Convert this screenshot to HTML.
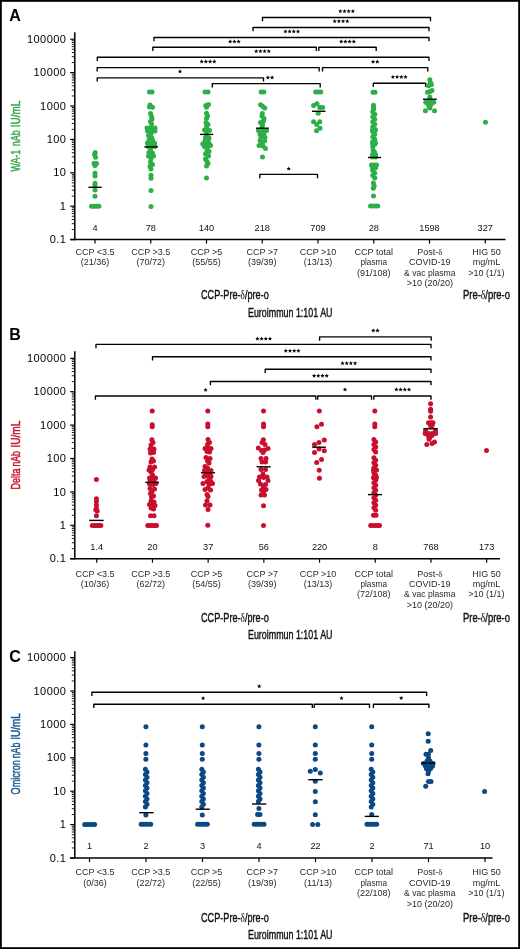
<!DOCTYPE html><html><head><meta charset="utf-8"><style>html,body{margin:0;padding:0;background:#fff;}svg{display:block;will-change:transform}</style></head><body>
<svg width="520" height="949" viewBox="0 0 520 949">
<rect x="0" y="0" width="520" height="949" fill="#fff"/>
<rect x="0.9" y="0.9" width="518.2" height="947.2" fill="none" stroke="#000" stroke-width="1.8"/>
<text x="9.3" y="20.6" font-family="Liberation Sans, sans-serif" font-weight="bold" font-size="16" fill="#000">A</text>
<g stroke="#000" fill="none"><line x1="74.80" y1="32.20" x2="74.80" y2="240.20" stroke-width="1.5"/><line x1="70.20" y1="239.60" x2="74.80" y2="239.60" stroke-width="1.2"/><line x1="71.80" y1="229.55" x2="74.80" y2="229.55" stroke-width="0.9"/><line x1="71.80" y1="223.66" x2="74.80" y2="223.66" stroke-width="0.9"/><line x1="71.80" y1="219.49" x2="74.80" y2="219.49" stroke-width="0.9"/><line x1="71.80" y1="216.25" x2="74.80" y2="216.25" stroke-width="0.9"/><line x1="71.80" y1="213.61" x2="74.80" y2="213.61" stroke-width="0.9"/><line x1="71.80" y1="211.37" x2="74.80" y2="211.37" stroke-width="0.9"/><line x1="71.80" y1="209.44" x2="74.80" y2="209.44" stroke-width="0.9"/><line x1="71.80" y1="207.73" x2="74.80" y2="207.73" stroke-width="0.9"/><line x1="70.20" y1="206.20" x2="74.80" y2="206.20" stroke-width="1.2"/><line x1="71.80" y1="196.15" x2="74.80" y2="196.15" stroke-width="0.9"/><line x1="71.80" y1="190.26" x2="74.80" y2="190.26" stroke-width="0.9"/><line x1="71.80" y1="186.09" x2="74.80" y2="186.09" stroke-width="0.9"/><line x1="71.80" y1="182.85" x2="74.80" y2="182.85" stroke-width="0.9"/><line x1="71.80" y1="180.21" x2="74.80" y2="180.21" stroke-width="0.9"/><line x1="71.80" y1="177.97" x2="74.80" y2="177.97" stroke-width="0.9"/><line x1="71.80" y1="176.04" x2="74.80" y2="176.04" stroke-width="0.9"/><line x1="71.80" y1="174.33" x2="74.80" y2="174.33" stroke-width="0.9"/><line x1="70.20" y1="172.80" x2="74.80" y2="172.80" stroke-width="1.2"/><line x1="71.80" y1="162.75" x2="74.80" y2="162.75" stroke-width="0.9"/><line x1="71.80" y1="156.86" x2="74.80" y2="156.86" stroke-width="0.9"/><line x1="71.80" y1="152.69" x2="74.80" y2="152.69" stroke-width="0.9"/><line x1="71.80" y1="149.45" x2="74.80" y2="149.45" stroke-width="0.9"/><line x1="71.80" y1="146.81" x2="74.80" y2="146.81" stroke-width="0.9"/><line x1="71.80" y1="144.57" x2="74.80" y2="144.57" stroke-width="0.9"/><line x1="71.80" y1="142.64" x2="74.80" y2="142.64" stroke-width="0.9"/><line x1="71.80" y1="140.93" x2="74.80" y2="140.93" stroke-width="0.9"/><line x1="70.20" y1="139.40" x2="74.80" y2="139.40" stroke-width="1.2"/><line x1="71.80" y1="129.35" x2="74.80" y2="129.35" stroke-width="0.9"/><line x1="71.80" y1="123.46" x2="74.80" y2="123.46" stroke-width="0.9"/><line x1="71.80" y1="119.29" x2="74.80" y2="119.29" stroke-width="0.9"/><line x1="71.80" y1="116.05" x2="74.80" y2="116.05" stroke-width="0.9"/><line x1="71.80" y1="113.41" x2="74.80" y2="113.41" stroke-width="0.9"/><line x1="71.80" y1="111.17" x2="74.80" y2="111.17" stroke-width="0.9"/><line x1="71.80" y1="109.24" x2="74.80" y2="109.24" stroke-width="0.9"/><line x1="71.80" y1="107.53" x2="74.80" y2="107.53" stroke-width="0.9"/><line x1="70.20" y1="106.00" x2="74.80" y2="106.00" stroke-width="1.2"/><line x1="71.80" y1="95.95" x2="74.80" y2="95.95" stroke-width="0.9"/><line x1="71.80" y1="90.06" x2="74.80" y2="90.06" stroke-width="0.9"/><line x1="71.80" y1="85.89" x2="74.80" y2="85.89" stroke-width="0.9"/><line x1="71.80" y1="82.65" x2="74.80" y2="82.65" stroke-width="0.9"/><line x1="71.80" y1="80.01" x2="74.80" y2="80.01" stroke-width="0.9"/><line x1="71.80" y1="77.77" x2="74.80" y2="77.77" stroke-width="0.9"/><line x1="71.80" y1="75.84" x2="74.80" y2="75.84" stroke-width="0.9"/><line x1="71.80" y1="74.13" x2="74.80" y2="74.13" stroke-width="0.9"/><line x1="70.20" y1="72.60" x2="74.80" y2="72.60" stroke-width="1.2"/><line x1="71.80" y1="62.55" x2="74.80" y2="62.55" stroke-width="0.9"/><line x1="71.80" y1="56.66" x2="74.80" y2="56.66" stroke-width="0.9"/><line x1="71.80" y1="52.49" x2="74.80" y2="52.49" stroke-width="0.9"/><line x1="71.80" y1="49.25" x2="74.80" y2="49.25" stroke-width="0.9"/><line x1="71.80" y1="46.61" x2="74.80" y2="46.61" stroke-width="0.9"/><line x1="71.80" y1="44.37" x2="74.80" y2="44.37" stroke-width="0.9"/><line x1="71.80" y1="42.44" x2="74.80" y2="42.44" stroke-width="0.9"/><line x1="71.80" y1="40.73" x2="74.80" y2="40.73" stroke-width="0.9"/><line x1="70.20" y1="39.20" x2="74.80" y2="39.20" stroke-width="1.2"/><line x1="70.20" y1="239.60" x2="505.50" y2="239.60" stroke-width="1.5"/><line x1="95.00" y1="239.60" x2="95.00" y2="243.60" stroke-width="1.2"/><line x1="150.75" y1="239.60" x2="150.75" y2="243.60" stroke-width="1.2"/><line x1="206.50" y1="239.60" x2="206.50" y2="243.60" stroke-width="1.2"/><line x1="262.25" y1="239.60" x2="262.25" y2="243.60" stroke-width="1.2"/><line x1="318.00" y1="239.60" x2="318.00" y2="243.60" stroke-width="1.2"/><line x1="373.75" y1="239.60" x2="373.75" y2="243.60" stroke-width="1.2"/><line x1="429.50" y1="239.60" x2="429.50" y2="243.60" stroke-width="1.2"/><line x1="485.25" y1="239.60" x2="485.25" y2="243.60" stroke-width="1.2"/></g>
<g font-family="Liberation Sans, sans-serif" font-size="11" fill="#000" text-anchor="end" letter-spacing="0.4"><text x="66.2" y="243.20">0.1</text><text x="66.2" y="209.80">1</text><text x="66.2" y="176.40">10</text><text x="66.2" y="143.00">100</text><text x="66.2" y="109.60">1000</text><text x="66.2" y="76.20">10000</text><text x="66.2" y="42.80">100000</text></g>
<text transform="translate(20.3,171.50) rotate(-90)" font-family="Liberation Sans, sans-serif" font-size="13" fill="#35A94A" stroke="#35A94A" stroke-width="0.5" textLength="21.60" lengthAdjust="spacingAndGlyphs">WA-1</text>
<text transform="translate(20.3,145.90) rotate(-90)" font-family="Liberation Sans, sans-serif" font-size="13" fill="#35A94A" stroke="#35A94A" stroke-width="0.5" textLength="15.50" lengthAdjust="spacingAndGlyphs">nAb</text>
<text transform="translate(20.3,127.30) rotate(-90)" font-family="Liberation Sans, sans-serif" font-size="13" fill="#35A94A" stroke="#35A94A" stroke-width="0.5" textLength="26.50" lengthAdjust="spacingAndGlyphs">IU/mL</text>
<g font-family="Liberation Sans, sans-serif" font-size="9.2" fill="#111" text-anchor="middle"><text x="95.00" y="230.80">4</text><text x="150.75" y="230.80">78</text><text x="206.50" y="230.80">140</text><text x="262.25" y="230.80">218</text><text x="318.00" y="230.80">709</text><text x="373.75" y="230.80">28</text><text x="429.50" y="230.80">1598</text><text x="485.25" y="230.80">327</text></g>
<g font-family="Liberation Sans, sans-serif" font-size="9" fill="#2a2a2a" text-anchor="middle"><text x="95.00" y="254.90">CCP &lt;3.5</text><text x="95.00" y="265.30">(21/36)</text><text x="150.75" y="254.90">CCP &gt;3.5</text><text x="150.75" y="265.30">(70/72)</text><text x="206.50" y="254.90">CCP &gt;5</text><text x="206.50" y="265.30">(55/55)</text><text x="262.25" y="254.90">CCP &gt;7</text><text x="262.25" y="265.30">(39/39)</text><text x="318.00" y="254.90">CCP &gt;10</text><text x="318.00" y="265.30">(13/13)</text><text x="373.75" y="254.90">CCP total</text><text x="373.75" y="265.30" textLength="26.6" lengthAdjust="spacingAndGlyphs">plasma</text><text x="373.75" y="275.70">(91/108)</text><text x="429.80" y="254.90">Post-<tspan font-family="Liberation Serif">δ</tspan></text><text x="429.80" y="265.30">COVID-19</text><text x="429.80" y="275.70" textLength="51.5" lengthAdjust="spacingAndGlyphs">&amp; vac plasma</text><text x="429.80" y="286.10">&gt;10 (20/20)</text><text x="486.40" y="254.90">HIG 50</text><text x="486.40" y="265.30">mg/mL</text><text x="486.40" y="275.70">&gt;10 (1/1)</text></g>
<text x="201" y="299.1" font-family="Liberation Sans, sans-serif" font-size="12.2" fill="#111" stroke="#111" stroke-width="0.4" textLength="67.8" lengthAdjust="spacingAndGlyphs">CCP-Pre-<tspan font-family="Liberation Serif" stroke-width="0.1">δ</tspan>/pre-o</text>
<text x="463" y="299.1" font-family="Liberation Sans, sans-serif" font-size="12.2" fill="#111" stroke="#111" stroke-width="0.4" textLength="47" lengthAdjust="spacingAndGlyphs">Pre-<tspan font-family="Liberation Serif" stroke-width="0.1">δ</tspan>/pre-o</text>
<text x="248" y="317.0" font-family="Liberation Sans, sans-serif" font-size="12.2" fill="#111" stroke="#111" stroke-width="0.4" textLength="84.5" lengthAdjust="spacingAndGlyphs">Euroimmun 1:101 AU</text>
<g stroke="#000" stroke-width="1.35" fill="none" stroke-linejoin="round"><path d="M262.50 21.30 V17.50 H430.50 V21.30"/><path d="M253.00 31.30 V27.50 H429.00 V31.30"/><path d="M154.00 41.30 V37.50 H429.00 V41.30"/><path d="M152.80 51.00 V47.20 H316.30 V51.00"/><path d="M318.80 51.00 V47.20 H376.20 V51.00"/><path d="M97.30 61.00 V57.20 H429.00 V61.00"/><path d="M97.20 71.40 V67.60 H319.20 V71.40"/><path d="M322.50 71.40 V67.60 H427.80 V71.40"/><path d="M97.20 81.60 V77.80 H263.50 V81.60"/><path d="M212.30 87.40 V83.60 H320.20 V87.40"/><path d="M373.30 87.00 V83.20 H425.80 V87.00"/><path d="M259.80 178.20 V174.40 H317.50 V178.20"/></g>
<g fill="#000"><polygon points="340.30,8.90 340.89,10.39 342.49,10.49 341.25,11.51 341.65,13.06 340.30,12.20 338.95,13.06 339.35,11.51 338.11,10.49 339.71,10.39"/><polygon points="344.50,8.90 345.09,10.39 346.69,10.49 345.45,11.51 345.85,13.06 344.50,12.20 343.15,13.06 343.55,11.51 342.31,10.49 343.91,10.39"/><polygon points="348.70,8.90 349.29,10.39 350.89,10.49 349.65,11.51 350.05,13.06 348.70,12.20 347.35,13.06 347.75,11.51 346.51,10.49 348.11,10.39"/><polygon points="352.90,8.90 353.49,10.39 355.09,10.49 353.85,11.51 354.25,13.06 352.90,12.20 351.55,13.06 351.95,11.51 350.71,10.49 352.31,10.39"/><polygon points="334.70,18.90 335.29,20.39 336.89,20.49 335.65,21.51 336.05,23.06 334.70,22.20 333.35,23.06 333.75,21.51 332.51,20.49 334.11,20.39"/><polygon points="338.90,18.90 339.49,20.39 341.09,20.49 339.85,21.51 340.25,23.06 338.90,22.20 337.55,23.06 337.95,21.51 336.71,20.49 338.31,20.39"/><polygon points="343.10,18.90 343.69,20.39 345.29,20.49 344.05,21.51 344.45,23.06 343.10,22.20 341.75,23.06 342.15,21.51 340.91,20.49 342.51,20.39"/><polygon points="347.30,18.90 347.89,20.39 349.49,20.49 348.25,21.51 348.65,23.06 347.30,22.20 345.95,23.06 346.35,21.51 345.11,20.49 346.71,20.39"/><polygon points="285.40,29.20 285.99,30.69 287.59,30.79 286.35,31.81 286.75,33.36 285.40,32.50 284.05,33.36 284.45,31.81 283.21,30.79 284.81,30.69"/><polygon points="289.60,29.20 290.19,30.69 291.79,30.79 290.55,31.81 290.95,33.36 289.60,32.50 288.25,33.36 288.65,31.81 287.41,30.79 289.01,30.69"/><polygon points="293.80,29.20 294.39,30.69 295.99,30.79 294.75,31.81 295.15,33.36 293.80,32.50 292.45,33.36 292.85,31.81 291.61,30.79 293.21,30.69"/><polygon points="298.00,29.20 298.59,30.69 300.19,30.79 298.95,31.81 299.35,33.36 298.00,32.50 296.65,33.36 297.05,31.81 295.81,30.79 297.41,30.69"/><polygon points="230.20,39.30 230.79,40.79 232.39,40.89 231.15,41.91 231.55,43.46 230.20,42.60 228.85,43.46 229.25,41.91 228.01,40.89 229.61,40.79"/><polygon points="234.40,39.30 234.99,40.79 236.59,40.89 235.35,41.91 235.75,43.46 234.40,42.60 233.05,43.46 233.45,41.91 232.21,40.89 233.81,40.79"/><polygon points="238.60,39.30 239.19,40.79 240.79,40.89 239.55,41.91 239.95,43.46 238.60,42.60 237.25,43.46 237.65,41.91 236.41,40.89 238.01,40.79"/><polygon points="341.20,39.30 341.79,40.79 343.39,40.89 342.15,41.91 342.55,43.46 341.20,42.60 339.85,43.46 340.25,41.91 339.01,40.89 340.61,40.79"/><polygon points="345.40,39.30 345.99,40.79 347.59,40.89 346.35,41.91 346.75,43.46 345.40,42.60 344.05,43.46 344.45,41.91 343.21,40.89 344.81,40.79"/><polygon points="349.60,39.30 350.19,40.79 351.79,40.89 350.55,41.91 350.95,43.46 349.60,42.60 348.25,43.46 348.65,41.91 347.41,40.89 349.01,40.79"/><polygon points="353.80,39.30 354.39,40.79 355.99,40.89 354.75,41.91 355.15,43.46 353.80,42.60 352.45,43.46 352.85,41.91 351.61,40.89 353.21,40.79"/><polygon points="256.20,48.90 256.79,50.39 258.39,50.49 257.15,51.51 257.55,53.06 256.20,52.20 254.85,53.06 255.25,51.51 254.01,50.49 255.61,50.39"/><polygon points="260.40,48.90 260.99,50.39 262.59,50.49 261.35,51.51 261.75,53.06 260.40,52.20 259.05,53.06 259.45,51.51 258.21,50.49 259.81,50.39"/><polygon points="264.60,48.90 265.19,50.39 266.79,50.49 265.55,51.51 265.95,53.06 264.60,52.20 263.25,53.06 263.65,51.51 262.41,50.49 264.01,50.39"/><polygon points="268.80,48.90 269.39,50.39 270.99,50.49 269.75,51.51 270.15,53.06 268.80,52.20 267.45,53.06 267.85,51.51 266.61,50.49 268.21,50.39"/><polygon points="201.70,59.30 202.29,60.79 203.89,60.89 202.65,61.91 203.05,63.46 201.70,62.60 200.35,63.46 200.75,61.91 199.51,60.89 201.11,60.79"/><polygon points="205.90,59.30 206.49,60.79 208.09,60.89 206.85,61.91 207.25,63.46 205.90,62.60 204.55,63.46 204.95,61.91 203.71,60.89 205.31,60.79"/><polygon points="210.10,59.30 210.69,60.79 212.29,60.89 211.05,61.91 211.45,63.46 210.10,62.60 208.75,63.46 209.15,61.91 207.91,60.89 209.51,60.79"/><polygon points="214.30,59.30 214.89,60.79 216.49,60.89 215.25,61.91 215.65,63.46 214.30,62.60 212.95,63.46 213.35,61.91 212.11,60.89 213.71,60.79"/><polygon points="373.10,59.50 373.69,60.99 375.29,61.09 374.05,62.11 374.45,63.66 373.10,62.80 371.75,63.66 372.15,62.11 370.91,61.09 372.51,60.99"/><polygon points="377.30,59.50 377.89,60.99 379.49,61.09 378.25,62.11 378.65,63.66 377.30,62.80 375.95,63.66 376.35,62.11 375.11,61.09 376.71,60.99"/><polygon points="180.00,69.20 180.59,70.69 182.19,70.79 180.95,71.81 181.35,73.36 180.00,72.50 178.65,73.36 179.05,71.81 177.81,70.79 179.41,70.69"/><polygon points="267.90,75.30 268.49,76.79 270.09,76.89 268.85,77.91 269.25,79.46 267.90,78.60 266.55,79.46 266.95,77.91 265.71,76.89 267.31,76.79"/><polygon points="272.10,75.30 272.69,76.79 274.29,76.89 273.05,77.91 273.45,79.46 272.10,78.60 270.75,79.46 271.15,77.91 269.91,76.89 271.51,76.79"/><polygon points="392.90,74.70 393.49,76.19 395.09,76.29 393.85,77.31 394.25,78.86 392.90,78.00 391.55,78.86 391.95,77.31 390.71,76.29 392.31,76.19"/><polygon points="397.10,74.70 397.69,76.19 399.29,76.29 398.05,77.31 398.45,78.86 397.10,78.00 395.75,78.86 396.15,77.31 394.91,76.29 396.51,76.19"/><polygon points="401.30,74.70 401.89,76.19 403.49,76.29 402.25,77.31 402.65,78.86 401.30,78.00 399.95,78.86 400.35,77.31 399.11,76.29 400.71,76.19"/><polygon points="405.50,74.70 406.09,76.19 407.69,76.29 406.45,77.31 406.85,78.86 405.50,78.00 404.15,78.86 404.55,77.31 403.31,76.29 404.91,76.19"/><polygon points="288.70,166.40 289.29,167.89 290.89,167.99 289.65,169.01 290.05,170.56 288.70,169.70 287.35,170.56 287.75,169.01 286.51,167.99 288.11,167.89"/></g>
<g fill="#2DAE47"><circle cx="95.20" cy="152.50" r="2.5"/><circle cx="94.50" cy="154.40" r="2.5"/><circle cx="95.50" cy="157.30" r="2.5"/><circle cx="94.00" cy="163.60" r="2.5"/><circle cx="96.50" cy="163.60" r="2.5"/><circle cx="95.00" cy="165.50" r="2.5"/><circle cx="95.00" cy="173.20" r="2.5"/><circle cx="95.00" cy="176.00" r="2.5"/><circle cx="95.00" cy="183.30" r="2.5"/><circle cx="95.00" cy="185.20" r="2.5"/><circle cx="95.00" cy="190.00" r="2.5"/><circle cx="95.00" cy="196.30" r="2.5"/><circle cx="91.50" cy="206.30" r="2.5"/><circle cx="93.97" cy="206.30" r="2.5"/><circle cx="96.43" cy="206.30" r="2.5"/><circle cx="98.90" cy="206.30" r="2.5"/><circle cx="149.50" cy="91.90" r="2.5"/><circle cx="152.00" cy="91.90" r="2.5"/><circle cx="150.00" cy="105.00" r="2.5"/><circle cx="152.50" cy="107.30" r="2.5"/><circle cx="149.50" cy="107.00" r="2.5"/><circle cx="150.50" cy="113.50" r="2.5"/><circle cx="151.50" cy="116.50" r="2.5"/><circle cx="152.00" cy="119.00" r="2.5"/><circle cx="150.50" cy="121.50" r="2.5"/><circle cx="151.50" cy="124.00" r="2.5"/><circle cx="147.00" cy="128.00" r="2.5"/><circle cx="151.00" cy="128.00" r="2.5"/><circle cx="155.00" cy="128.00" r="2.5"/><circle cx="147.50" cy="131.00" r="2.5"/><circle cx="151.00" cy="131.00" r="2.5"/><circle cx="155.00" cy="131.00" r="2.5"/><circle cx="151.00" cy="133.50" r="2.5"/><circle cx="148.50" cy="135.50" r="2.5"/><circle cx="151.50" cy="137.50" r="2.5"/><circle cx="149.00" cy="140.00" r="2.5"/><circle cx="152.50" cy="140.00" r="2.5"/><circle cx="147.50" cy="143.00" r="2.5"/><circle cx="151.50" cy="143.00" r="2.5"/><circle cx="154.50" cy="143.00" r="2.5"/><circle cx="148.00" cy="146.50" r="2.5"/><circle cx="151.50" cy="146.50" r="2.5"/><circle cx="155.00" cy="146.50" r="2.5"/><circle cx="150.50" cy="149.50" r="2.5"/><circle cx="149.00" cy="152.50" r="2.5"/><circle cx="152.50" cy="153.00" r="2.5"/><circle cx="153.50" cy="156.00" r="2.5"/><circle cx="148.50" cy="156.00" r="2.5"/><circle cx="151.00" cy="158.50" r="2.5"/><circle cx="150.50" cy="162.00" r="2.5"/><circle cx="152.50" cy="164.50" r="2.5"/><circle cx="150.00" cy="166.50" r="2.5"/><circle cx="151.00" cy="169.00" r="2.5"/><circle cx="151.00" cy="175.20" r="2.5"/><circle cx="151.00" cy="178.30" r="2.5"/><circle cx="151.00" cy="190.50" r="2.5"/><circle cx="151.00" cy="206.40" r="2.5"/><circle cx="205.00" cy="91.90" r="2.5"/><circle cx="208.00" cy="91.90" r="2.5"/><circle cx="205.80" cy="105.50" r="2.5"/><circle cx="208.50" cy="104.50" r="2.5"/><circle cx="206.50" cy="107.30" r="2.5"/><circle cx="206.50" cy="113.30" r="2.5"/><circle cx="207.50" cy="116.00" r="2.5"/><circle cx="206.50" cy="118.30" r="2.5"/><circle cx="206.00" cy="122.50" r="2.5"/><circle cx="208.00" cy="124.50" r="2.5"/><circle cx="206.50" cy="126.00" r="2.5"/><circle cx="204.50" cy="130.00" r="2.5"/><circle cx="207.50" cy="129.50" r="2.5"/><circle cx="209.50" cy="130.50" r="2.5"/><circle cx="206.50" cy="132.00" r="2.5"/><circle cx="205.50" cy="137.50" r="2.5"/><circle cx="209.00" cy="138.00" r="2.5"/><circle cx="207.00" cy="136.00" r="2.5"/><circle cx="202.80" cy="144.00" r="2.5"/><circle cx="206.00" cy="143.00" r="2.5"/><circle cx="209.00" cy="143.50" r="2.5"/><circle cx="210.50" cy="145.50" r="2.5"/><circle cx="204.50" cy="146.50" r="2.5"/><circle cx="207.50" cy="147.00" r="2.5"/><circle cx="205.00" cy="141.00" r="2.5"/><circle cx="208.00" cy="140.50" r="2.5"/><circle cx="207.00" cy="150.50" r="2.5"/><circle cx="209.00" cy="151.50" r="2.5"/><circle cx="205.50" cy="154.00" r="2.5"/><circle cx="208.50" cy="156.00" r="2.5"/><circle cx="205.50" cy="159.00" r="2.5"/><circle cx="207.00" cy="161.50" r="2.5"/><circle cx="208.00" cy="163.50" r="2.5"/><circle cx="206.50" cy="166.00" r="2.5"/><circle cx="206.50" cy="178.00" r="2.5"/><circle cx="261.20" cy="92.10" r="2.5"/><circle cx="263.80" cy="92.10" r="2.5"/><circle cx="260.60" cy="104.70" r="2.5"/><circle cx="262.50" cy="106.20" r="2.5"/><circle cx="264.70" cy="107.90" r="2.5"/><circle cx="262.30" cy="113.50" r="2.5"/><circle cx="262.00" cy="116.00" r="2.5"/><circle cx="264.00" cy="118.50" r="2.5"/><circle cx="263.50" cy="121.00" r="2.5"/><circle cx="260.50" cy="122.50" r="2.5"/><circle cx="262.50" cy="124.50" r="2.5"/><circle cx="262.00" cy="127.00" r="2.5"/><circle cx="258.50" cy="130.50" r="2.5"/><circle cx="262.50" cy="130.50" r="2.5"/><circle cx="266.50" cy="130.50" r="2.5"/><circle cx="260.00" cy="134.00" r="2.5"/><circle cx="264.00" cy="134.00" r="2.5"/><circle cx="261.00" cy="137.00" r="2.5"/><circle cx="265.00" cy="137.50" r="2.5"/><circle cx="260.00" cy="140.50" r="2.5"/><circle cx="264.50" cy="141.00" r="2.5"/><circle cx="262.00" cy="143.00" r="2.5"/><circle cx="259.00" cy="145.50" r="2.5"/><circle cx="263.00" cy="146.00" r="2.5"/><circle cx="265.50" cy="148.50" r="2.5"/><circle cx="262.50" cy="157.00" r="2.5"/><circle cx="315.70" cy="92.10" r="2.5"/><circle cx="318.20" cy="92.10" r="2.5"/><circle cx="320.70" cy="92.10" r="2.5"/><circle cx="317.00" cy="103.70" r="2.5"/><circle cx="313.60" cy="105.60" r="2.5"/><circle cx="319.80" cy="107.50" r="2.5"/><circle cx="322.60" cy="107.50" r="2.5"/><circle cx="318.20" cy="113.20" r="2.5"/><circle cx="313.60" cy="121.70" r="2.5"/><circle cx="319.80" cy="121.70" r="2.5"/><circle cx="316.70" cy="124.50" r="2.5"/><circle cx="320.00" cy="128.30" r="2.5"/><circle cx="316.50" cy="130.70" r="2.5"/><circle cx="373.00" cy="92.20" r="2.5"/><circle cx="375.00" cy="92.20" r="2.5"/><circle cx="373.50" cy="105.30" r="2.5"/><circle cx="373.50" cy="107.50" r="2.5"/><circle cx="373.50" cy="109.20" r="2.5"/><circle cx="372.75" cy="111.80" r="2.5"/><circle cx="374.75" cy="114.30" r="2.5"/><circle cx="372.75" cy="116.80" r="2.5"/><circle cx="374.75" cy="119.30" r="2.5"/><circle cx="372.75" cy="121.80" r="2.5"/><circle cx="374.75" cy="124.30" r="2.5"/><circle cx="372.75" cy="126.80" r="2.5"/><circle cx="374.75" cy="129.30" r="2.5"/><circle cx="372.75" cy="131.80" r="2.5"/><circle cx="374.75" cy="134.30" r="2.5"/><circle cx="372.75" cy="136.80" r="2.5"/><circle cx="374.75" cy="139.30" r="2.5"/><circle cx="372.75" cy="141.80" r="2.5"/><circle cx="374.75" cy="144.30" r="2.5"/><circle cx="372.75" cy="146.80" r="2.5"/><circle cx="372.50" cy="130.00" r="2.5"/><circle cx="375.50" cy="130.00" r="2.5"/><circle cx="372.50" cy="143.00" r="2.5"/><circle cx="375.50" cy="143.00" r="2.5"/><circle cx="372.50" cy="154.50" r="2.5"/><circle cx="375.50" cy="154.50" r="2.5"/><circle cx="372.50" cy="157.00" r="2.5"/><circle cx="375.50" cy="157.00" r="2.5"/><circle cx="373.20" cy="150.30" r="2.5"/><circle cx="374.60" cy="152.30" r="2.5"/><circle cx="371.50" cy="165.10" r="2.5"/><circle cx="374.00" cy="165.10" r="2.5"/><circle cx="376.50" cy="165.10" r="2.5"/><circle cx="372.50" cy="167.70" r="2.5"/><circle cx="375.50" cy="167.70" r="2.5"/><circle cx="372.75" cy="170.50" r="2.5"/><circle cx="374.75" cy="173.00" r="2.5"/><circle cx="372.75" cy="175.50" r="2.5"/><circle cx="374.75" cy="178.00" r="2.5"/><circle cx="373.35" cy="183.10" r="2.5"/><circle cx="374.15" cy="185.70" r="2.5"/><circle cx="373.35" cy="188.30" r="2.5"/><circle cx="373.50" cy="196.00" r="2.5"/><circle cx="370.50" cy="206.00" r="2.5"/><circle cx="372.93" cy="206.00" r="2.5"/><circle cx="375.37" cy="206.00" r="2.5"/><circle cx="377.80" cy="206.00" r="2.5"/><circle cx="429.80" cy="79.80" r="2.5"/><circle cx="430.50" cy="82.70" r="2.5"/><circle cx="431.50" cy="84.60" r="2.5"/><circle cx="428.50" cy="85.80" r="2.5"/><circle cx="432.00" cy="90.40" r="2.5"/><circle cx="427.50" cy="92.30" r="2.5"/><circle cx="430.00" cy="91.50" r="2.5"/><circle cx="429.80" cy="96.90" r="2.5"/><circle cx="425.80" cy="102.30" r="2.5"/><circle cx="427.80" cy="102.30" r="2.5"/><circle cx="429.80" cy="102.30" r="2.5"/><circle cx="431.80" cy="102.30" r="2.5"/><circle cx="433.80" cy="102.30" r="2.5"/><circle cx="428.00" cy="104.60" r="2.5"/><circle cx="431.00" cy="104.60" r="2.5"/><circle cx="429.50" cy="107.00" r="2.5"/><circle cx="429.80" cy="108.10" r="2.5"/><circle cx="425.40" cy="110.80" r="2.5"/><circle cx="434.50" cy="110.80" r="2.5"/><circle cx="485.50" cy="122.30" r="2.5"/></g>
<g stroke="#000" stroke-width="1.4"><line x1="88.50" y1="187.30" x2="101.70" y2="187.30"/><line x1="144.40" y1="146.90" x2="157.80" y2="146.90"/><line x1="199.90" y1="134.40" x2="213.20" y2="134.40"/><line x1="255.90" y1="128.20" x2="268.80" y2="128.20"/><line x1="312.00" y1="111.30" x2="325.50" y2="111.30"/><line x1="367.90" y1="157.50" x2="381.00" y2="157.50"/><line x1="423.00" y1="99.20" x2="436.80" y2="99.20"/></g>
<text x="9.3" y="340.0" font-family="Liberation Sans, sans-serif" font-weight="bold" font-size="16" fill="#000">B</text>
<g stroke="#000" fill="none"><line x1="74.80" y1="351.30" x2="74.80" y2="559.30" stroke-width="1.5"/><line x1="70.20" y1="558.70" x2="74.80" y2="558.70" stroke-width="1.2"/><line x1="71.80" y1="548.65" x2="74.80" y2="548.65" stroke-width="0.9"/><line x1="71.80" y1="542.76" x2="74.80" y2="542.76" stroke-width="0.9"/><line x1="71.80" y1="538.59" x2="74.80" y2="538.59" stroke-width="0.9"/><line x1="71.80" y1="535.35" x2="74.80" y2="535.35" stroke-width="0.9"/><line x1="71.80" y1="532.71" x2="74.80" y2="532.71" stroke-width="0.9"/><line x1="71.80" y1="530.47" x2="74.80" y2="530.47" stroke-width="0.9"/><line x1="71.80" y1="528.54" x2="74.80" y2="528.54" stroke-width="0.9"/><line x1="71.80" y1="526.83" x2="74.80" y2="526.83" stroke-width="0.9"/><line x1="70.20" y1="525.30" x2="74.80" y2="525.30" stroke-width="1.2"/><line x1="71.80" y1="515.25" x2="74.80" y2="515.25" stroke-width="0.9"/><line x1="71.80" y1="509.36" x2="74.80" y2="509.36" stroke-width="0.9"/><line x1="71.80" y1="505.19" x2="74.80" y2="505.19" stroke-width="0.9"/><line x1="71.80" y1="501.95" x2="74.80" y2="501.95" stroke-width="0.9"/><line x1="71.80" y1="499.31" x2="74.80" y2="499.31" stroke-width="0.9"/><line x1="71.80" y1="497.07" x2="74.80" y2="497.07" stroke-width="0.9"/><line x1="71.80" y1="495.14" x2="74.80" y2="495.14" stroke-width="0.9"/><line x1="71.80" y1="493.43" x2="74.80" y2="493.43" stroke-width="0.9"/><line x1="70.20" y1="491.90" x2="74.80" y2="491.90" stroke-width="1.2"/><line x1="71.80" y1="481.85" x2="74.80" y2="481.85" stroke-width="0.9"/><line x1="71.80" y1="475.96" x2="74.80" y2="475.96" stroke-width="0.9"/><line x1="71.80" y1="471.79" x2="74.80" y2="471.79" stroke-width="0.9"/><line x1="71.80" y1="468.55" x2="74.80" y2="468.55" stroke-width="0.9"/><line x1="71.80" y1="465.91" x2="74.80" y2="465.91" stroke-width="0.9"/><line x1="71.80" y1="463.67" x2="74.80" y2="463.67" stroke-width="0.9"/><line x1="71.80" y1="461.74" x2="74.80" y2="461.74" stroke-width="0.9"/><line x1="71.80" y1="460.03" x2="74.80" y2="460.03" stroke-width="0.9"/><line x1="70.20" y1="458.50" x2="74.80" y2="458.50" stroke-width="1.2"/><line x1="71.80" y1="448.45" x2="74.80" y2="448.45" stroke-width="0.9"/><line x1="71.80" y1="442.56" x2="74.80" y2="442.56" stroke-width="0.9"/><line x1="71.80" y1="438.39" x2="74.80" y2="438.39" stroke-width="0.9"/><line x1="71.80" y1="435.15" x2="74.80" y2="435.15" stroke-width="0.9"/><line x1="71.80" y1="432.51" x2="74.80" y2="432.51" stroke-width="0.9"/><line x1="71.80" y1="430.27" x2="74.80" y2="430.27" stroke-width="0.9"/><line x1="71.80" y1="428.34" x2="74.80" y2="428.34" stroke-width="0.9"/><line x1="71.80" y1="426.63" x2="74.80" y2="426.63" stroke-width="0.9"/><line x1="70.20" y1="425.10" x2="74.80" y2="425.10" stroke-width="1.2"/><line x1="71.80" y1="415.05" x2="74.80" y2="415.05" stroke-width="0.9"/><line x1="71.80" y1="409.16" x2="74.80" y2="409.16" stroke-width="0.9"/><line x1="71.80" y1="404.99" x2="74.80" y2="404.99" stroke-width="0.9"/><line x1="71.80" y1="401.75" x2="74.80" y2="401.75" stroke-width="0.9"/><line x1="71.80" y1="399.11" x2="74.80" y2="399.11" stroke-width="0.9"/><line x1="71.80" y1="396.87" x2="74.80" y2="396.87" stroke-width="0.9"/><line x1="71.80" y1="394.94" x2="74.80" y2="394.94" stroke-width="0.9"/><line x1="71.80" y1="393.23" x2="74.80" y2="393.23" stroke-width="0.9"/><line x1="70.20" y1="391.70" x2="74.80" y2="391.70" stroke-width="1.2"/><line x1="71.80" y1="381.65" x2="74.80" y2="381.65" stroke-width="0.9"/><line x1="71.80" y1="375.76" x2="74.80" y2="375.76" stroke-width="0.9"/><line x1="71.80" y1="371.59" x2="74.80" y2="371.59" stroke-width="0.9"/><line x1="71.80" y1="368.35" x2="74.80" y2="368.35" stroke-width="0.9"/><line x1="71.80" y1="365.71" x2="74.80" y2="365.71" stroke-width="0.9"/><line x1="71.80" y1="363.47" x2="74.80" y2="363.47" stroke-width="0.9"/><line x1="71.80" y1="361.54" x2="74.80" y2="361.54" stroke-width="0.9"/><line x1="71.80" y1="359.83" x2="74.80" y2="359.83" stroke-width="0.9"/><line x1="70.20" y1="358.30" x2="74.80" y2="358.30" stroke-width="1.2"/><line x1="70.20" y1="558.70" x2="500.00" y2="558.70" stroke-width="1.5"/><line x1="96.75" y1="558.70" x2="96.75" y2="562.70" stroke-width="1.2"/><line x1="152.45" y1="558.70" x2="152.45" y2="562.70" stroke-width="1.2"/><line x1="208.15" y1="558.70" x2="208.15" y2="562.70" stroke-width="1.2"/><line x1="263.85" y1="558.70" x2="263.85" y2="562.70" stroke-width="1.2"/><line x1="319.55" y1="558.70" x2="319.55" y2="562.70" stroke-width="1.2"/><line x1="375.25" y1="558.70" x2="375.25" y2="562.70" stroke-width="1.2"/><line x1="430.95" y1="558.70" x2="430.95" y2="562.70" stroke-width="1.2"/><line x1="486.65" y1="558.70" x2="486.65" y2="562.70" stroke-width="1.2"/></g>
<g font-family="Liberation Sans, sans-serif" font-size="11" fill="#000" text-anchor="end" letter-spacing="0.4"><text x="66.2" y="562.30">0.1</text><text x="66.2" y="528.90">1</text><text x="66.2" y="495.50">10</text><text x="66.2" y="462.10">100</text><text x="66.2" y="428.70">1000</text><text x="66.2" y="395.30">10000</text><text x="66.2" y="361.90">100000</text></g>
<text transform="translate(20.3,489.40) rotate(-90)" font-family="Liberation Sans, sans-serif" font-size="13" fill="#C8102E" stroke="#C8102E" stroke-width="0.5" textLength="20.90" lengthAdjust="spacingAndGlyphs">Delta</text>
<text transform="translate(20.3,466.60) rotate(-90)" font-family="Liberation Sans, sans-serif" font-size="13" fill="#C8102E" stroke="#C8102E" stroke-width="0.5" textLength="15.60" lengthAdjust="spacingAndGlyphs">nAb</text>
<text transform="translate(20.3,447.60) rotate(-90)" font-family="Liberation Sans, sans-serif" font-size="13" fill="#C8102E" stroke="#C8102E" stroke-width="0.5" textLength="27.00" lengthAdjust="spacingAndGlyphs">IU/mL</text>
<g font-family="Liberation Sans, sans-serif" font-size="9.2" fill="#111" text-anchor="middle"><text x="96.75" y="549.90">1.4</text><text x="152.45" y="549.90">20</text><text x="208.15" y="549.90">37</text><text x="263.85" y="549.90">56</text><text x="319.55" y="549.90">220</text><text x="375.25" y="549.90">8</text><text x="430.95" y="549.90">768</text><text x="486.65" y="549.90">173</text></g>
<g font-family="Liberation Sans, sans-serif" font-size="9" fill="#2a2a2a" text-anchor="middle"><text x="95.00" y="576.60">CCP &lt;3.5</text><text x="95.00" y="587.00">(10/36)</text><text x="150.75" y="576.60">CCP &gt;3.5</text><text x="150.75" y="587.00">(62/72)</text><text x="206.50" y="576.60">CCP &gt;5</text><text x="206.50" y="587.00">(54/55)</text><text x="262.25" y="576.60">CCP &gt;7</text><text x="262.25" y="587.00">(39/39)</text><text x="318.00" y="576.60">CCP &gt;10</text><text x="318.00" y="587.00">(13/13)</text><text x="373.75" y="576.60">CCP total</text><text x="373.75" y="587.00" textLength="26.6" lengthAdjust="spacingAndGlyphs">plasma</text><text x="373.75" y="597.40">(72/108)</text><text x="429.80" y="576.60">Post-<tspan font-family="Liberation Serif">δ</tspan></text><text x="429.80" y="587.00">COVID-19</text><text x="429.80" y="597.40" textLength="51.5" lengthAdjust="spacingAndGlyphs">&amp; vac plasma</text><text x="429.80" y="607.80">&gt;10 (20/20)</text><text x="486.40" y="576.60">HIG 50</text><text x="486.40" y="587.00">mg/mL</text><text x="486.40" y="597.40">&gt;10 (1/1)</text></g>
<text x="201" y="621.8" font-family="Liberation Sans, sans-serif" font-size="12.2" fill="#111" stroke="#111" stroke-width="0.4" textLength="67.8" lengthAdjust="spacingAndGlyphs">CCP-Pre-<tspan font-family="Liberation Serif" stroke-width="0.1">δ</tspan>/pre-o</text>
<text x="463" y="621.8" font-family="Liberation Sans, sans-serif" font-size="12.2" fill="#111" stroke="#111" stroke-width="0.4" textLength="47" lengthAdjust="spacingAndGlyphs">Pre-<tspan font-family="Liberation Serif" stroke-width="0.1">δ</tspan>/pre-o</text>
<text x="248" y="638.7" font-family="Liberation Sans, sans-serif" font-size="12.2" fill="#111" stroke="#111" stroke-width="0.4" textLength="84.5" lengthAdjust="spacingAndGlyphs">Euroimmun 1:101 AU</text>
<g stroke="#000" stroke-width="1.35" fill="none" stroke-linejoin="round"><path d="M319.60 340.70 V336.90 H431.20 V340.70"/><path d="M96.00 348.20 V344.40 H431.00 V348.20"/><path d="M152.50 360.50 V356.70 H431.00 V360.50"/><path d="M265.20 373.00 V369.20 H431.00 V373.00"/><path d="M210.40 385.30 V381.50 H431.00 V385.30"/><path d="M95.40 399.80 V396.00 H315.80 V399.80"/><path d="M317.70 399.80 V396.00 H371.50 V399.80"/><path d="M373.80 399.80 V396.00 H431.00 V399.80"/></g>
<g fill="#000"><polygon points="373.30,328.30 373.89,329.79 375.49,329.89 374.25,330.91 374.65,332.46 373.30,331.60 371.95,332.46 372.35,330.91 371.11,329.89 372.71,329.79"/><polygon points="377.50,328.30 378.09,329.79 379.69,329.89 378.45,330.91 378.85,332.46 377.50,331.60 376.15,332.46 376.55,330.91 375.31,329.89 376.91,329.79"/><polygon points="257.40,336.40 257.99,337.89 259.59,337.99 258.35,339.01 258.75,340.56 257.40,339.70 256.05,340.56 256.45,339.01 255.21,337.99 256.81,337.89"/><polygon points="261.60,336.40 262.19,337.89 263.79,337.99 262.55,339.01 262.95,340.56 261.60,339.70 260.25,340.56 260.65,339.01 259.41,337.99 261.01,337.89"/><polygon points="265.80,336.40 266.39,337.89 267.99,337.99 266.75,339.01 267.15,340.56 265.80,339.70 264.45,340.56 264.85,339.01 263.61,337.99 265.21,337.89"/><polygon points="270.00,336.40 270.59,337.89 272.19,337.99 270.95,339.01 271.35,340.56 270.00,339.70 268.65,340.56 269.05,339.01 267.81,337.99 269.41,337.89"/><polygon points="285.80,348.50 286.39,349.99 287.99,350.09 286.75,351.11 287.15,352.66 285.80,351.80 284.45,352.66 284.85,351.11 283.61,350.09 285.21,349.99"/><polygon points="290.00,348.50 290.59,349.99 292.19,350.09 290.95,351.11 291.35,352.66 290.00,351.80 288.65,352.66 289.05,351.11 287.81,350.09 289.41,349.99"/><polygon points="294.20,348.50 294.79,349.99 296.39,350.09 295.15,351.11 295.55,352.66 294.20,351.80 292.85,352.66 293.25,351.11 292.01,350.09 293.61,349.99"/><polygon points="298.40,348.50 298.99,349.99 300.59,350.09 299.35,351.11 299.75,352.66 298.40,351.80 297.05,352.66 297.45,351.11 296.21,350.09 297.81,349.99"/><polygon points="342.50,361.00 343.09,362.49 344.69,362.59 343.45,363.61 343.85,365.16 342.50,364.30 341.15,365.16 341.55,363.61 340.31,362.59 341.91,362.49"/><polygon points="346.70,361.00 347.29,362.49 348.89,362.59 347.65,363.61 348.05,365.16 346.70,364.30 345.35,365.16 345.75,363.61 344.51,362.59 346.11,362.49"/><polygon points="350.90,361.00 351.49,362.49 353.09,362.59 351.85,363.61 352.25,365.16 350.90,364.30 349.55,365.16 349.95,363.61 348.71,362.59 350.31,362.49"/><polygon points="355.10,361.00 355.69,362.49 357.29,362.59 356.05,363.61 356.45,365.16 355.10,364.30 353.75,365.16 354.15,363.61 352.91,362.59 354.51,362.49"/><polygon points="314.10,373.50 314.69,374.99 316.29,375.09 315.05,376.11 315.45,377.66 314.10,376.80 312.75,377.66 313.15,376.11 311.91,375.09 313.51,374.99"/><polygon points="318.30,373.50 318.89,374.99 320.49,375.09 319.25,376.11 319.65,377.66 318.30,376.80 316.95,377.66 317.35,376.11 316.11,375.09 317.71,374.99"/><polygon points="322.50,373.50 323.09,374.99 324.69,375.09 323.45,376.11 323.85,377.66 322.50,376.80 321.15,377.66 321.55,376.11 320.31,375.09 321.91,374.99"/><polygon points="326.70,373.50 327.29,374.99 328.89,375.09 327.65,376.11 328.05,377.66 326.70,376.80 325.35,377.66 325.75,376.11 324.51,375.09 326.11,374.99"/><polygon points="205.60,387.70 206.19,389.19 207.79,389.29 206.55,390.31 206.95,391.86 205.60,391.00 204.25,391.86 204.65,390.31 203.41,389.29 205.01,389.19"/><polygon points="345.00,387.30 345.59,388.79 347.19,388.89 345.95,389.91 346.35,391.46 345.00,390.60 343.65,391.46 344.05,389.91 342.81,388.89 344.41,388.79"/><polygon points="396.40,387.30 396.99,388.79 398.59,388.89 397.35,389.91 397.75,391.46 396.40,390.60 395.05,391.46 395.45,389.91 394.21,388.89 395.81,388.79"/><polygon points="400.60,387.30 401.19,388.79 402.79,388.89 401.55,389.91 401.95,391.46 400.60,390.60 399.25,391.46 399.65,389.91 398.41,388.89 400.01,388.79"/><polygon points="404.80,387.30 405.39,388.79 406.99,388.89 405.75,389.91 406.15,391.46 404.80,390.60 403.45,391.46 403.85,389.91 402.61,388.89 404.21,388.79"/><polygon points="409.00,387.30 409.59,388.79 411.19,388.89 409.95,389.91 410.35,391.46 409.00,390.60 407.65,391.46 408.05,389.91 406.81,388.89 408.41,388.79"/></g>
<g fill="#C8102E"><circle cx="96.40" cy="479.60" r="2.5"/><circle cx="96.40" cy="498.80" r="2.5"/><circle cx="96.40" cy="501.50" r="2.5"/><circle cx="96.40" cy="505.00" r="2.5"/><circle cx="96.40" cy="508.50" r="2.5"/><circle cx="95.80" cy="509.80" r="2.5"/><circle cx="97.20" cy="511.00" r="2.5"/><circle cx="96.40" cy="515.80" r="2.5"/><circle cx="92.30" cy="525.50" r="2.5"/><circle cx="94.42" cy="525.50" r="2.5"/><circle cx="96.55" cy="525.50" r="2.5"/><circle cx="98.67" cy="525.50" r="2.5"/><circle cx="100.80" cy="525.50" r="2.5"/><circle cx="152.20" cy="410.90" r="2.5"/><circle cx="152.20" cy="424.80" r="2.5"/><circle cx="152.20" cy="426.70" r="2.5"/><circle cx="151.90" cy="439.80" r="2.5"/><circle cx="153.00" cy="442.50" r="2.5"/><circle cx="151.00" cy="445.00" r="2.5"/><circle cx="150.00" cy="449.00" r="2.5"/><circle cx="154.00" cy="449.00" r="2.5"/><circle cx="151.50" cy="451.50" r="2.5"/><circle cx="150.50" cy="453.00" r="2.5"/><circle cx="153.50" cy="452.50" r="2.5"/><circle cx="152.00" cy="459.00" r="2.5"/><circle cx="151.00" cy="462.00" r="2.5"/><circle cx="153.50" cy="461.00" r="2.5"/><circle cx="150.00" cy="467.00" r="2.5"/><circle cx="154.50" cy="467.00" r="2.5"/><circle cx="149.00" cy="470.00" r="2.5"/><circle cx="152.50" cy="469.50" r="2.5"/><circle cx="151.00" cy="472.00" r="2.5"/><circle cx="152.50" cy="475.00" r="2.5"/><circle cx="149.50" cy="478.00" r="2.5"/><circle cx="152.50" cy="478.50" r="2.5"/><circle cx="155.50" cy="478.00" r="2.5"/><circle cx="149.50" cy="484.00" r="2.5"/><circle cx="153.00" cy="484.50" r="2.5"/><circle cx="156.00" cy="483.50" r="2.5"/><circle cx="150.00" cy="481.00" r="2.5"/><circle cx="154.00" cy="481.00" r="2.5"/><circle cx="150.00" cy="488.50" r="2.5"/><circle cx="154.50" cy="489.00" r="2.5"/><circle cx="152.00" cy="491.50" r="2.5"/><circle cx="150.50" cy="493.50" r="2.5"/><circle cx="151.50" cy="497.00" r="2.5"/><circle cx="153.50" cy="496.00" r="2.5"/><circle cx="151.00" cy="501.00" r="2.5"/><circle cx="154.00" cy="502.00" r="2.5"/><circle cx="149.50" cy="504.50" r="2.5"/><circle cx="152.50" cy="505.00" r="2.5"/><circle cx="155.00" cy="505.50" r="2.5"/><circle cx="151.00" cy="508.00" r="2.5"/><circle cx="153.50" cy="509.00" r="2.5"/><circle cx="150.50" cy="515.70" r="2.5"/><circle cx="154.00" cy="515.70" r="2.5"/><circle cx="147.80" cy="525.50" r="2.5"/><circle cx="149.98" cy="525.50" r="2.5"/><circle cx="152.15" cy="525.50" r="2.5"/><circle cx="154.32" cy="525.50" r="2.5"/><circle cx="156.50" cy="525.50" r="2.5"/><circle cx="207.80" cy="410.90" r="2.5"/><circle cx="207.80" cy="424.10" r="2.5"/><circle cx="207.80" cy="426.70" r="2.5"/><circle cx="208.00" cy="439.60" r="2.5"/><circle cx="209.50" cy="442.50" r="2.5"/><circle cx="207.50" cy="444.50" r="2.5"/><circle cx="205.00" cy="448.50" r="2.5"/><circle cx="208.00" cy="448.00" r="2.5"/><circle cx="211.00" cy="448.50" r="2.5"/><circle cx="207.00" cy="451.50" r="2.5"/><circle cx="209.50" cy="452.00" r="2.5"/><circle cx="206.00" cy="457.50" r="2.5"/><circle cx="210.00" cy="458.50" r="2.5"/><circle cx="207.50" cy="461.00" r="2.5"/><circle cx="209.00" cy="463.00" r="2.5"/><circle cx="205.00" cy="466.50" r="2.5"/><circle cx="207.50" cy="468.00" r="2.5"/><circle cx="204.50" cy="470.50" r="2.5"/><circle cx="208.00" cy="471.00" r="2.5"/><circle cx="211.00" cy="470.50" r="2.5"/><circle cx="204.00" cy="476.50" r="2.5"/><circle cx="207.50" cy="476.00" r="2.5"/><circle cx="211.00" cy="476.50" r="2.5"/><circle cx="209.50" cy="479.00" r="2.5"/><circle cx="206.00" cy="474.50" r="2.5"/><circle cx="210.00" cy="474.50" r="2.5"/><circle cx="203.00" cy="483.50" r="2.5"/><circle cx="207.00" cy="481.50" r="2.5"/><circle cx="210.50" cy="481.00" r="2.5"/><circle cx="212.50" cy="483.50" r="2.5"/><circle cx="209.00" cy="484.50" r="2.5"/><circle cx="205.00" cy="489.50" r="2.5"/><circle cx="208.00" cy="488.00" r="2.5"/><circle cx="210.50" cy="490.00" r="2.5"/><circle cx="207.00" cy="494.50" r="2.5"/><circle cx="208.00" cy="496.50" r="2.5"/><circle cx="207.00" cy="501.00" r="2.5"/><circle cx="205.50" cy="505.00" r="2.5"/><circle cx="210.00" cy="505.00" r="2.5"/><circle cx="208.00" cy="509.50" r="2.5"/><circle cx="207.80" cy="525.20" r="2.5"/><circle cx="263.50" cy="410.90" r="2.5"/><circle cx="263.50" cy="424.10" r="2.5"/><circle cx="263.50" cy="426.70" r="2.5"/><circle cx="263.40" cy="439.80" r="2.5"/><circle cx="262.00" cy="442.50" r="2.5"/><circle cx="265.00" cy="444.50" r="2.5"/><circle cx="258.30" cy="448.00" r="2.5"/><circle cx="261.50" cy="450.50" r="2.5"/><circle cx="264.50" cy="450.00" r="2.5"/><circle cx="268.00" cy="448.50" r="2.5"/><circle cx="263.00" cy="452.50" r="2.5"/><circle cx="261.00" cy="458.50" r="2.5"/><circle cx="266.00" cy="458.50" r="2.5"/><circle cx="262.00" cy="462.00" r="2.5"/><circle cx="265.50" cy="462.00" r="2.5"/><circle cx="261.00" cy="469.50" r="2.5"/><circle cx="265.50" cy="469.50" r="2.5"/><circle cx="263.00" cy="474.00" r="2.5"/><circle cx="259.50" cy="477.00" r="2.5"/><circle cx="267.00" cy="477.00" r="2.5"/><circle cx="258.50" cy="480.50" r="2.5"/><circle cx="268.00" cy="480.50" r="2.5"/><circle cx="260.50" cy="484.00" r="2.5"/><circle cx="265.50" cy="484.50" r="2.5"/><circle cx="263.50" cy="486.50" r="2.5"/><circle cx="263.50" cy="477.50" r="2.5"/><circle cx="261.50" cy="490.00" r="2.5"/><circle cx="266.00" cy="489.50" r="2.5"/><circle cx="263.50" cy="492.50" r="2.5"/><circle cx="261.00" cy="495.00" r="2.5"/><circle cx="264.50" cy="495.00" r="2.5"/><circle cx="263.50" cy="505.80" r="2.5"/><circle cx="263.50" cy="525.60" r="2.5"/><circle cx="319.30" cy="410.90" r="2.5"/><circle cx="316.90" cy="426.70" r="2.5"/><circle cx="321.50" cy="424.20" r="2.5"/><circle cx="324.30" cy="440.10" r="2.5"/><circle cx="319.00" cy="442.60" r="2.5"/><circle cx="314.50" cy="444.60" r="2.5"/><circle cx="319.00" cy="449.10" r="2.5"/><circle cx="314.50" cy="452.50" r="2.5"/><circle cx="324.30" cy="450.80" r="2.5"/><circle cx="321.50" cy="459.60" r="2.5"/><circle cx="316.70" cy="462.60" r="2.5"/><circle cx="319.20" cy="470.20" r="2.5"/><circle cx="319.40" cy="478.20" r="2.5"/><circle cx="374.80" cy="410.90" r="2.5"/><circle cx="374.80" cy="424.10" r="2.5"/><circle cx="374.80" cy="426.70" r="2.5"/><circle cx="373.90" cy="439.50" r="2.5"/><circle cx="375.70" cy="442.00" r="2.5"/><circle cx="373.90" cy="444.50" r="2.5"/><circle cx="375.70" cy="447.00" r="2.5"/><circle cx="373.90" cy="449.50" r="2.5"/><circle cx="375.70" cy="452.00" r="2.5"/><circle cx="373.90" cy="457.70" r="2.5"/><circle cx="375.70" cy="460.20" r="2.5"/><circle cx="373.90" cy="462.70" r="2.5"/><circle cx="375.70" cy="465.20" r="2.5"/><circle cx="373.90" cy="467.70" r="2.5"/><circle cx="375.70" cy="470.20" r="2.5"/><circle cx="373.90" cy="472.70" r="2.5"/><circle cx="375.70" cy="475.20" r="2.5"/><circle cx="373.90" cy="477.70" r="2.5"/><circle cx="375.70" cy="480.20" r="2.5"/><circle cx="373.90" cy="482.70" r="2.5"/><circle cx="375.70" cy="485.20" r="2.5"/><circle cx="373.90" cy="487.70" r="2.5"/><circle cx="375.70" cy="490.20" r="2.5"/><circle cx="373.90" cy="492.70" r="2.5"/><circle cx="375.70" cy="495.20" r="2.5"/><circle cx="373.90" cy="497.70" r="2.5"/><circle cx="375.70" cy="500.20" r="2.5"/><circle cx="373.90" cy="502.70" r="2.5"/><circle cx="375.70" cy="505.20" r="2.5"/><circle cx="373.90" cy="507.70" r="2.5"/><circle cx="375.70" cy="510.20" r="2.5"/><circle cx="373.50" cy="477.50" r="2.5"/><circle cx="376.50" cy="477.50" r="2.5"/><circle cx="373.50" cy="470.00" r="2.5"/><circle cx="376.50" cy="470.00" r="2.5"/><circle cx="373.50" cy="515.30" r="2.5"/><circle cx="376.00" cy="515.30" r="2.5"/><circle cx="370.70" cy="525.40" r="2.5"/><circle cx="372.90" cy="525.40" r="2.5"/><circle cx="375.10" cy="525.40" r="2.5"/><circle cx="377.30" cy="525.40" r="2.5"/><circle cx="379.50" cy="525.40" r="2.5"/><circle cx="430.60" cy="403.80" r="2.5"/><circle cx="430.60" cy="409.20" r="2.5"/><circle cx="430.60" cy="411.20" r="2.5"/><circle cx="430.60" cy="416.90" r="2.5"/><circle cx="428.50" cy="422.70" r="2.5"/><circle cx="431.00" cy="422.70" r="2.5"/><circle cx="433.00" cy="422.70" r="2.5"/><circle cx="430.50" cy="425.80" r="2.5"/><circle cx="432.00" cy="425.80" r="2.5"/><circle cx="425.20" cy="433.50" r="2.5"/><circle cx="428.70" cy="433.50" r="2.5"/><circle cx="432.20" cy="433.50" r="2.5"/><circle cx="435.60" cy="433.50" r="2.5"/><circle cx="428.00" cy="435.40" r="2.5"/><circle cx="432.00" cy="435.40" r="2.5"/><circle cx="429.50" cy="437.70" r="2.5"/><circle cx="429.00" cy="439.20" r="2.5"/><circle cx="434.50" cy="441.90" r="2.5"/><circle cx="432.00" cy="443.50" r="2.5"/><circle cx="426.80" cy="444.60" r="2.5"/><circle cx="425.50" cy="431.00" r="2.5"/><circle cx="435.50" cy="431.00" r="2.5"/><circle cx="486.50" cy="450.60" r="2.5"/></g>
<g stroke="#000" stroke-width="1.4"><line x1="89.20" y1="520.40" x2="103.70" y2="520.40"/><line x1="145.30" y1="482.40" x2="159.00" y2="482.40"/><line x1="200.90" y1="472.80" x2="215.10" y2="472.80"/><line x1="256.60" y1="466.80" x2="270.60" y2="466.80"/><line x1="312.20" y1="447.20" x2="325.90" y2="447.20"/><line x1="367.90" y1="494.60" x2="382.00" y2="494.60"/><line x1="423.30" y1="428.80" x2="437.80" y2="428.80"/></g>
<text x="9.3" y="661.5" font-family="Liberation Sans, sans-serif" font-weight="bold" font-size="16" fill="#000">C</text>
<g stroke="#000" fill="none"><line x1="74.80" y1="651.20" x2="74.80" y2="858.60" stroke-width="1.5"/><line x1="70.20" y1="858.00" x2="74.80" y2="858.00" stroke-width="1.2"/><line x1="71.80" y1="847.95" x2="74.80" y2="847.95" stroke-width="0.9"/><line x1="71.80" y1="842.06" x2="74.80" y2="842.06" stroke-width="0.9"/><line x1="71.80" y1="837.89" x2="74.80" y2="837.89" stroke-width="0.9"/><line x1="71.80" y1="834.65" x2="74.80" y2="834.65" stroke-width="0.9"/><line x1="71.80" y1="832.01" x2="74.80" y2="832.01" stroke-width="0.9"/><line x1="71.80" y1="829.77" x2="74.80" y2="829.77" stroke-width="0.9"/><line x1="71.80" y1="827.84" x2="74.80" y2="827.84" stroke-width="0.9"/><line x1="71.80" y1="826.13" x2="74.80" y2="826.13" stroke-width="0.9"/><line x1="70.20" y1="824.60" x2="74.80" y2="824.60" stroke-width="1.2"/><line x1="71.80" y1="814.55" x2="74.80" y2="814.55" stroke-width="0.9"/><line x1="71.80" y1="808.66" x2="74.80" y2="808.66" stroke-width="0.9"/><line x1="71.80" y1="804.49" x2="74.80" y2="804.49" stroke-width="0.9"/><line x1="71.80" y1="801.25" x2="74.80" y2="801.25" stroke-width="0.9"/><line x1="71.80" y1="798.61" x2="74.80" y2="798.61" stroke-width="0.9"/><line x1="71.80" y1="796.37" x2="74.80" y2="796.37" stroke-width="0.9"/><line x1="71.80" y1="794.44" x2="74.80" y2="794.44" stroke-width="0.9"/><line x1="71.80" y1="792.73" x2="74.80" y2="792.73" stroke-width="0.9"/><line x1="70.20" y1="791.20" x2="74.80" y2="791.20" stroke-width="1.2"/><line x1="71.80" y1="781.15" x2="74.80" y2="781.15" stroke-width="0.9"/><line x1="71.80" y1="775.26" x2="74.80" y2="775.26" stroke-width="0.9"/><line x1="71.80" y1="771.09" x2="74.80" y2="771.09" stroke-width="0.9"/><line x1="71.80" y1="767.85" x2="74.80" y2="767.85" stroke-width="0.9"/><line x1="71.80" y1="765.21" x2="74.80" y2="765.21" stroke-width="0.9"/><line x1="71.80" y1="762.97" x2="74.80" y2="762.97" stroke-width="0.9"/><line x1="71.80" y1="761.04" x2="74.80" y2="761.04" stroke-width="0.9"/><line x1="71.80" y1="759.33" x2="74.80" y2="759.33" stroke-width="0.9"/><line x1="70.20" y1="757.80" x2="74.80" y2="757.80" stroke-width="1.2"/><line x1="71.80" y1="747.75" x2="74.80" y2="747.75" stroke-width="0.9"/><line x1="71.80" y1="741.86" x2="74.80" y2="741.86" stroke-width="0.9"/><line x1="71.80" y1="737.69" x2="74.80" y2="737.69" stroke-width="0.9"/><line x1="71.80" y1="734.45" x2="74.80" y2="734.45" stroke-width="0.9"/><line x1="71.80" y1="731.81" x2="74.80" y2="731.81" stroke-width="0.9"/><line x1="71.80" y1="729.57" x2="74.80" y2="729.57" stroke-width="0.9"/><line x1="71.80" y1="727.64" x2="74.80" y2="727.64" stroke-width="0.9"/><line x1="71.80" y1="725.93" x2="74.80" y2="725.93" stroke-width="0.9"/><line x1="70.20" y1="724.40" x2="74.80" y2="724.40" stroke-width="1.2"/><line x1="71.80" y1="714.35" x2="74.80" y2="714.35" stroke-width="0.9"/><line x1="71.80" y1="708.46" x2="74.80" y2="708.46" stroke-width="0.9"/><line x1="71.80" y1="704.29" x2="74.80" y2="704.29" stroke-width="0.9"/><line x1="71.80" y1="701.05" x2="74.80" y2="701.05" stroke-width="0.9"/><line x1="71.80" y1="698.41" x2="74.80" y2="698.41" stroke-width="0.9"/><line x1="71.80" y1="696.17" x2="74.80" y2="696.17" stroke-width="0.9"/><line x1="71.80" y1="694.24" x2="74.80" y2="694.24" stroke-width="0.9"/><line x1="71.80" y1="692.53" x2="74.80" y2="692.53" stroke-width="0.9"/><line x1="70.20" y1="691.00" x2="74.80" y2="691.00" stroke-width="1.2"/><line x1="71.80" y1="680.95" x2="74.80" y2="680.95" stroke-width="0.9"/><line x1="71.80" y1="675.06" x2="74.80" y2="675.06" stroke-width="0.9"/><line x1="71.80" y1="670.89" x2="74.80" y2="670.89" stroke-width="0.9"/><line x1="71.80" y1="667.65" x2="74.80" y2="667.65" stroke-width="0.9"/><line x1="71.80" y1="665.01" x2="74.80" y2="665.01" stroke-width="0.9"/><line x1="71.80" y1="662.77" x2="74.80" y2="662.77" stroke-width="0.9"/><line x1="71.80" y1="660.84" x2="74.80" y2="660.84" stroke-width="0.9"/><line x1="71.80" y1="659.13" x2="74.80" y2="659.13" stroke-width="0.9"/><line x1="70.20" y1="657.60" x2="74.80" y2="657.60" stroke-width="1.2"/><line x1="70.20" y1="858.00" x2="492.50" y2="858.00" stroke-width="1.5"/><line x1="89.50" y1="858.00" x2="89.50" y2="862.00" stroke-width="1.2"/><line x1="146.00" y1="858.00" x2="146.00" y2="862.00" stroke-width="1.2"/><line x1="202.50" y1="858.00" x2="202.50" y2="862.00" stroke-width="1.2"/><line x1="259.00" y1="858.00" x2="259.00" y2="862.00" stroke-width="1.2"/><line x1="315.50" y1="858.00" x2="315.50" y2="862.00" stroke-width="1.2"/><line x1="372.00" y1="858.00" x2="372.00" y2="862.00" stroke-width="1.2"/><line x1="428.50" y1="858.00" x2="428.50" y2="862.00" stroke-width="1.2"/><line x1="485.00" y1="858.00" x2="485.00" y2="862.00" stroke-width="1.2"/></g>
<g font-family="Liberation Sans, sans-serif" font-size="11" fill="#000" text-anchor="end" letter-spacing="0.4"><text x="66.2" y="861.60">0.1</text><text x="66.2" y="828.20">1</text><text x="66.2" y="794.80">10</text><text x="66.2" y="761.40">100</text><text x="66.2" y="728.00">1000</text><text x="66.2" y="694.60">10000</text><text x="66.2" y="661.20">100000</text></g>
<text transform="translate(20.3,794.40) rotate(-90)" font-family="Liberation Sans, sans-serif" font-size="13" fill="#1A5A96" stroke="#1A5A96" stroke-width="0.5" textLength="34.20" lengthAdjust="spacingAndGlyphs">Omicron</text>
<text transform="translate(20.3,758.30) rotate(-90)" font-family="Liberation Sans, sans-serif" font-size="13" fill="#1A5A96" stroke="#1A5A96" stroke-width="0.5" textLength="15.70" lengthAdjust="spacingAndGlyphs">nAb</text>
<text transform="translate(20.3,739.80) rotate(-90)" font-family="Liberation Sans, sans-serif" font-size="13" fill="#1A5A96" stroke="#1A5A96" stroke-width="0.5" textLength="26.60" lengthAdjust="spacingAndGlyphs">IU/mL</text>
<g font-family="Liberation Sans, sans-serif" font-size="9.2" fill="#111" text-anchor="middle"><text x="89.50" y="849.20">1</text><text x="146.00" y="849.20">2</text><text x="202.50" y="849.20">3</text><text x="259.00" y="849.20">4</text><text x="315.50" y="849.20">22</text><text x="372.00" y="849.20">2</text><text x="428.50" y="849.20">71</text><text x="485.00" y="849.20">10</text></g>
<g font-family="Liberation Sans, sans-serif" font-size="9" fill="#2a2a2a" text-anchor="middle"><text x="95.00" y="875.40">CCP &lt;3.5</text><text x="95.00" y="885.80">(0/36)</text><text x="150.75" y="875.40">CCP &gt;3.5</text><text x="150.75" y="885.80">(22/72)</text><text x="206.50" y="875.40">CCP &gt;5</text><text x="206.50" y="885.80">(22/55)</text><text x="262.25" y="875.40">CCP &gt;7</text><text x="262.25" y="885.80">(19/39)</text><text x="318.00" y="875.40">CCP &gt;10</text><text x="318.00" y="885.80">(11/13)</text><text x="373.75" y="875.40">CCP total</text><text x="373.75" y="885.80" textLength="26.6" lengthAdjust="spacingAndGlyphs">plasma</text><text x="373.75" y="896.20">(22/108)</text><text x="429.80" y="875.40">Post-<tspan font-family="Liberation Serif">δ</tspan></text><text x="429.80" y="885.80">COVID-19</text><text x="429.80" y="896.20" textLength="51.5" lengthAdjust="spacingAndGlyphs">&amp; vac plasma</text><text x="429.80" y="906.60">&gt;10 (20/20)</text><text x="486.40" y="875.40">HIG 50</text><text x="486.40" y="885.80">mg/mL</text><text x="486.40" y="896.20">&gt;10 (1/1)</text></g>
<text x="201" y="921.8" font-family="Liberation Sans, sans-serif" font-size="12.2" fill="#111" stroke="#111" stroke-width="0.4" textLength="67.8" lengthAdjust="spacingAndGlyphs">CCP-Pre-<tspan font-family="Liberation Serif" stroke-width="0.1">δ</tspan>/pre-o</text>
<text x="463" y="921.8" font-family="Liberation Sans, sans-serif" font-size="12.2" fill="#111" stroke="#111" stroke-width="0.4" textLength="47" lengthAdjust="spacingAndGlyphs">Pre-<tspan font-family="Liberation Serif" stroke-width="0.1">δ</tspan>/pre-o</text>
<text x="248" y="939.1" font-family="Liberation Sans, sans-serif" font-size="12.2" fill="#111" stroke="#111" stroke-width="0.4" textLength="84.5" lengthAdjust="spacingAndGlyphs">Euroimmun 1:101 AU</text>
<g stroke="#000" stroke-width="1.35" fill="none" stroke-linejoin="round"><path d="M91.90 696.00 V692.20 H426.60 V696.00"/><path d="M93.80 708.00 V704.20 H312.30 V708.00"/><path d="M314.20 708.00 V704.20 H369.50 V708.00"/><path d="M373.40 708.00 V704.20 H428.90 V708.00"/></g>
<g fill="#000"><polygon points="259.20,684.00 259.79,685.49 261.39,685.59 260.15,686.61 260.55,688.16 259.20,687.30 257.85,688.16 258.25,686.61 257.01,685.59 258.61,685.49"/><polygon points="203.10,696.00 203.69,697.49 205.29,697.59 204.05,698.61 204.45,700.16 203.10,699.30 201.75,700.16 202.15,698.61 200.91,697.59 202.51,697.49"/><polygon points="341.50,695.90 342.09,697.39 343.69,697.49 342.45,698.51 342.85,700.06 341.50,699.20 340.15,700.06 340.55,698.51 339.31,697.49 340.91,697.39"/><polygon points="401.20,695.80 401.79,697.29 403.39,697.39 402.15,698.41 402.55,699.96 401.20,699.10 399.85,699.96 400.25,698.41 399.01,697.39 400.61,697.29"/></g>
<g fill="#0B4884"><circle cx="84.70" cy="824.60" r="2.5"/><circle cx="87.17" cy="824.60" r="2.5"/><circle cx="89.65" cy="824.60" r="2.5"/><circle cx="92.12" cy="824.60" r="2.5"/><circle cx="94.60" cy="824.60" r="2.5"/><circle cx="145.90" cy="726.70" r="2.5"/><circle cx="145.90" cy="744.90" r="2.5"/><circle cx="145.90" cy="753.60" r="2.5"/><circle cx="145.90" cy="759.20" r="2.5"/><circle cx="145.40" cy="769.20" r="2.5"/><circle cx="147.00" cy="771.90" r="2.5"/><circle cx="145.40" cy="774.60" r="2.5"/><circle cx="147.00" cy="777.30" r="2.5"/><circle cx="145.40" cy="780.00" r="2.5"/><circle cx="147.00" cy="782.70" r="2.5"/><circle cx="145.40" cy="785.40" r="2.5"/><circle cx="147.00" cy="788.10" r="2.5"/><circle cx="145.40" cy="790.80" r="2.5"/><circle cx="147.00" cy="793.50" r="2.5"/><circle cx="145.40" cy="796.20" r="2.5"/><circle cx="147.00" cy="798.90" r="2.5"/><circle cx="145.40" cy="801.60" r="2.5"/><circle cx="147.00" cy="804.30" r="2.5"/><circle cx="145.40" cy="807.00" r="2.5"/><circle cx="145.90" cy="815.00" r="2.5"/><circle cx="141.20" cy="824.30" r="2.5"/><circle cx="143.57" cy="824.30" r="2.5"/><circle cx="145.95" cy="824.30" r="2.5"/><circle cx="148.32" cy="824.30" r="2.5"/><circle cx="150.70" cy="824.30" r="2.5"/><circle cx="202.30" cy="726.70" r="2.5"/><circle cx="202.30" cy="744.90" r="2.5"/><circle cx="202.30" cy="753.60" r="2.5"/><circle cx="202.30" cy="759.20" r="2.5"/><circle cx="201.80" cy="769.20" r="2.5"/><circle cx="203.40" cy="771.90" r="2.5"/><circle cx="201.80" cy="774.60" r="2.5"/><circle cx="203.40" cy="777.30" r="2.5"/><circle cx="201.80" cy="780.00" r="2.5"/><circle cx="203.40" cy="782.70" r="2.5"/><circle cx="201.80" cy="785.40" r="2.5"/><circle cx="203.40" cy="788.10" r="2.5"/><circle cx="201.80" cy="790.80" r="2.5"/><circle cx="203.40" cy="793.50" r="2.5"/><circle cx="201.80" cy="796.20" r="2.5"/><circle cx="203.40" cy="798.90" r="2.5"/><circle cx="201.80" cy="801.60" r="2.5"/><circle cx="203.40" cy="804.30" r="2.5"/><circle cx="201.80" cy="807.00" r="2.5"/><circle cx="202.30" cy="815.00" r="2.5"/><circle cx="197.60" cy="824.30" r="2.5"/><circle cx="200.03" cy="824.30" r="2.5"/><circle cx="202.45" cy="824.30" r="2.5"/><circle cx="204.88" cy="824.30" r="2.5"/><circle cx="207.30" cy="824.30" r="2.5"/><circle cx="258.90" cy="726.70" r="2.5"/><circle cx="258.90" cy="744.90" r="2.5"/><circle cx="258.90" cy="753.60" r="2.5"/><circle cx="258.90" cy="759.20" r="2.5"/><circle cx="258.40" cy="769.20" r="2.5"/><circle cx="260.00" cy="771.90" r="2.5"/><circle cx="258.40" cy="774.60" r="2.5"/><circle cx="260.00" cy="777.30" r="2.5"/><circle cx="258.40" cy="780.00" r="2.5"/><circle cx="260.00" cy="782.70" r="2.5"/><circle cx="258.40" cy="785.40" r="2.5"/><circle cx="260.00" cy="788.10" r="2.5"/><circle cx="258.40" cy="790.80" r="2.5"/><circle cx="260.00" cy="793.50" r="2.5"/><circle cx="258.40" cy="796.20" r="2.5"/><circle cx="260.00" cy="798.90" r="2.5"/><circle cx="258.40" cy="801.60" r="2.5"/><circle cx="258.90" cy="808.60" r="2.5"/><circle cx="257.60" cy="814.40" r="2.5"/><circle cx="260.00" cy="814.40" r="2.5"/><circle cx="254.20" cy="824.30" r="2.5"/><circle cx="256.65" cy="824.30" r="2.5"/><circle cx="259.10" cy="824.30" r="2.5"/><circle cx="261.55" cy="824.30" r="2.5"/><circle cx="264.00" cy="824.30" r="2.5"/><circle cx="315.30" cy="726.70" r="2.5"/><circle cx="315.30" cy="744.90" r="2.5"/><circle cx="315.30" cy="753.60" r="2.5"/><circle cx="315.30" cy="759.20" r="2.5"/><circle cx="315.30" cy="769.60" r="2.5"/><circle cx="310.30" cy="771.20" r="2.5"/><circle cx="320.30" cy="773.10" r="2.5"/><circle cx="315.30" cy="781.20" r="2.5"/><circle cx="315.30" cy="791.60" r="2.5"/><circle cx="315.30" cy="801.70" r="2.5"/><circle cx="315.30" cy="814.80" r="2.5"/><circle cx="312.60" cy="824.50" r="2.5"/><circle cx="317.80" cy="824.50" r="2.5"/><circle cx="371.70" cy="726.70" r="2.5"/><circle cx="371.70" cy="744.90" r="2.5"/><circle cx="371.70" cy="753.60" r="2.5"/><circle cx="371.70" cy="759.20" r="2.5"/><circle cx="371.20" cy="769.20" r="2.5"/><circle cx="372.80" cy="771.90" r="2.5"/><circle cx="371.20" cy="774.60" r="2.5"/><circle cx="372.80" cy="777.30" r="2.5"/><circle cx="371.20" cy="780.00" r="2.5"/><circle cx="372.80" cy="782.70" r="2.5"/><circle cx="371.20" cy="785.40" r="2.5"/><circle cx="372.80" cy="788.10" r="2.5"/><circle cx="371.20" cy="790.80" r="2.5"/><circle cx="372.80" cy="793.50" r="2.5"/><circle cx="371.20" cy="796.20" r="2.5"/><circle cx="372.80" cy="798.90" r="2.5"/><circle cx="371.20" cy="801.60" r="2.5"/><circle cx="372.80" cy="804.30" r="2.5"/><circle cx="371.20" cy="807.00" r="2.5"/><circle cx="371.70" cy="814.40" r="2.5"/><circle cx="367.00" cy="824.30" r="2.5"/><circle cx="369.43" cy="824.30" r="2.5"/><circle cx="371.85" cy="824.30" r="2.5"/><circle cx="374.27" cy="824.30" r="2.5"/><circle cx="376.70" cy="824.30" r="2.5"/><circle cx="428.20" cy="733.80" r="2.5"/><circle cx="428.20" cy="741.20" r="2.5"/><circle cx="430.70" cy="750.50" r="2.5"/><circle cx="426.00" cy="754.20" r="2.5"/><circle cx="428.40" cy="754.20" r="2.5"/><circle cx="428.50" cy="757.70" r="2.5"/><circle cx="427.00" cy="761.00" r="2.5"/><circle cx="430.00" cy="761.00" r="2.5"/><circle cx="425.50" cy="766.20" r="2.5"/><circle cx="427.83" cy="766.20" r="2.5"/><circle cx="430.17" cy="766.20" r="2.5"/><circle cx="432.50" cy="766.20" r="2.5"/><circle cx="426.50" cy="768.80" r="2.5"/><circle cx="428.50" cy="768.80" r="2.5"/><circle cx="430.50" cy="768.80" r="2.5"/><circle cx="428.50" cy="771.50" r="2.5"/><circle cx="428.00" cy="773.80" r="2.5"/><circle cx="428.50" cy="781.50" r="2.5"/><circle cx="431.00" cy="781.50" r="2.5"/><circle cx="425.70" cy="786.20" r="2.5"/><circle cx="423.50" cy="763.50" r="2.5"/><circle cx="433.00" cy="763.50" r="2.5"/><circle cx="431.00" cy="765.50" r="2.5"/><circle cx="484.60" cy="791.40" r="2.5"/></g>
<g stroke="#000" stroke-width="1.4"><line x1="139.30" y1="812.70" x2="153.60" y2="812.70"/><line x1="195.70" y1="809.20" x2="209.80" y2="809.20"/><line x1="252.00" y1="804.00" x2="266.20" y2="804.00"/><line x1="308.30" y1="779.70" x2="322.60" y2="779.70"/><line x1="364.70" y1="816.40" x2="378.90" y2="816.40"/><line x1="421.10" y1="763.10" x2="435.10" y2="763.10"/></g>
</svg></body></html>
